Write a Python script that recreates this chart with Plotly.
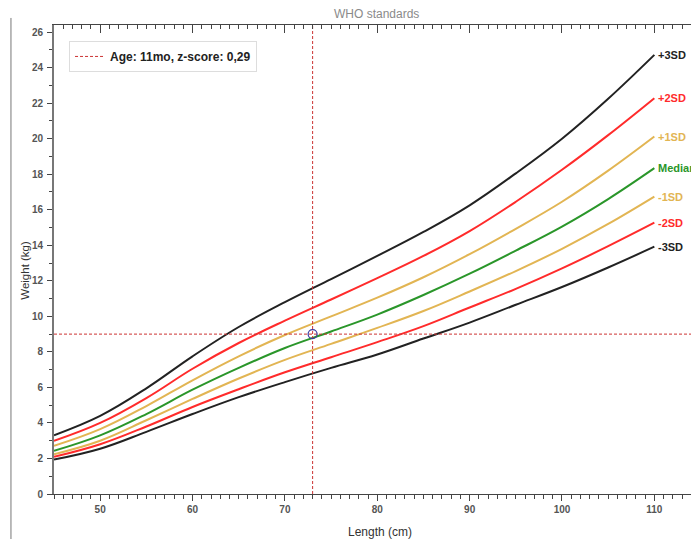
import plotly.graph_objects as go

# Length (cm)
lengths = [45, 50, 55, 60, 65, 70, 75, 80, 85, 90, 95, 100, 105, 110]

# Weight (kg) reference curves
sd_p3 = [3.31, 4.40, 5.95, 7.75, 9.40, 10.80, 12.10, 13.40, 14.75, 16.25, 18.05, 20.00, 22.25, 24.72]
sd_p2 = [2.99, 4.00, 5.40, 7.05, 8.50, 9.76, 10.95, 12.15, 13.40, 14.80, 16.45, 18.25, 20.20, 22.28]
sd_p1 = [2.71, 3.65, 4.95, 6.40, 7.75, 8.95, 10.00, 11.05, 12.20, 13.50, 14.93, 16.45, 18.20, 20.12]
median = [2.43, 3.30, 4.50, 5.87, 7.10, 8.22, 9.15, 10.10, 11.20, 12.40, 13.70, 15.05, 16.60, 18.34]
sd_m1 = [2.24, 3.00, 4.15, 5.35, 6.50, 7.55, 8.45, 9.35, 10.30, 11.40, 12.55, 13.80, 15.20, 16.74]
sd_m2 = [2.09, 2.80, 3.80, 4.90, 5.90, 6.85, 7.70, 8.55, 9.45, 10.50, 11.55, 12.70, 13.95, 15.27]
sd_m3 = [1.94, 2.55, 3.50, 4.50, 5.45, 6.30, 7.10, 7.85, 8.75, 9.65, 10.65, 11.65, 12.75, 13.92]

curve_names = ["+3SD", "+2SD", "+1SD", "Median", "-1SD", "-2SD", "-3SD"]
curve_values = [sd_p3, sd_p2, sd_p1, median, sd_m1, sd_m2, sd_m3]
curve_colors = ["#222222", "#ff2b2b", "#e2b553", "#2a962a", "#e2b553", "#ff2b2b", "#222222"]

# Measured child
point_length = 73
point_weight = 9.0
legend_text = "Age: 11mo, z-score: 0,29"

x_range = [45, 115.7]
y_range = [0, 26.4]

FONT = "Arial, Liberation Sans, sans-serif"

fig = go.Figure()

for name, vals, col in zip(curve_names, curve_values, curve_colors):
    fig.add_trace(go.Scatter(
        x=lengths, y=vals, mode="lines", name=name, showlegend=False,
        line=dict(color=col, width=2, shape="spline", smoothing=1.1),
        hoverinfo="skip"))

# crosshair
fig.add_trace(go.Scatter(
    x=[point_length, point_length], y=y_range, mode="lines", name=legend_text,
    showlegend=True, line=dict(color="#cc3333", width=1, dash="3px,2px")))
fig.add_trace(go.Scatter(
    x=x_range, y=[point_weight, point_weight], mode="lines", showlegend=False,
    line=dict(color="#cc3333", width=1, dash="3px,2px")))
fig.add_trace(go.Scatter(
    x=[point_length], y=[point_weight], mode="markers", showlegend=False,
    marker=dict(symbol="circle-open", size=9, color="#3a3aa0", line=dict(width=1.2))))
# dummy trace for top axis
fig.add_trace(go.Scatter(x=x_range, y=[None, None], xaxis="x2", showlegend=False,
                         hoverinfo="skip"))

annotations = []
for name, vals, col in zip(curve_names, curve_values, curve_colors):
    annotations.append(dict(
        x=lengths[-1], y=vals[-1], xref="x", yref="y", text="<b>" + name + "</b>",
        showarrow=False, xanchor="left", yanchor="middle", xshift=2,
        font=dict(family=FONT, size=11, color=col)))

# plot area: 653 px wide (left at 46 inside figure), 468.6 px high
annotations += [
    dict(text="WHO standards", xref="paper", yref="paper", x=0.494, y=1.0, yshift=11,
         showarrow=False, xanchor="center", yanchor="middle",
         font=dict(family=FONT, size=12, color="#8a8a8a")),
    dict(text="Weight (kg)", xref="paper", yref="paper", x=-0.0445, y=0.478,
         textangle=-90, showarrow=False, xanchor="center", yanchor="middle",
         font=dict(family=FONT, size=11.5, color="#333333")),
    dict(text="Length (cm)", xref="paper", yref="paper", x=0.499, y=-0.0815,
         showarrow=False, xanchor="center", yanchor="middle",
         font=dict(family=FONT, size=12, color="#333333")),
]

fig.update_layout(
    width=699, height=539,
    margin=dict(l=46, r=0, t=17, b=53),
    paper_bgcolor="white", plot_bgcolor="white",
    font=dict(family=FONT, size=10, color="#444444"),
    showlegend=True,
    legend=dict(x=0.023, y=0.966, xanchor="left", yanchor="top",
                bgcolor="white", bordercolor="#dddddd", borderwidth=1,
                font=dict(family=FONT, size=12, color="#222222", weight="bold"),
                itemwidth=30, tracegroupgap=0),
    xaxis=dict(range=x_range, showgrid=False, zeroline=False,
               showline=True, linecolor="#444444", linewidth=1,
               ticks="outside", ticklen=6, tickcolor="#444444",
               tickvals=[50, 60, 70, 80, 90, 100, 110],
               tickfont=dict(family=FONT, size=10, color="#555555", weight="bold"),
               minor=dict(dtick=1, tick0=45, ticks="outside", ticklen=4, tickcolor="#444444")),
    xaxis2=dict(range=x_range, overlaying="x", side="top", showgrid=False, zeroline=False,
                showline=True, linecolor="#444444", linewidth=1,
                ticks="inside", ticklen=8, tickcolor="#444444",
                tickvals=[50, 60, 70, 80, 90, 100, 110], showticklabels=False,
                minor=dict(dtick=1, tick0=45, ticks="inside", ticklen=4, tickcolor="#444444")),
    yaxis=dict(range=y_range, showgrid=False, zeroline=False,
               showline=True, linecolor="#777777", linewidth=2,
               ticks="outside", ticklen=5, tickcolor="#444444",
               tickvals=list(range(0, 27, 2)), ticklabelstandoff=2,
               tickfont=dict(family=FONT, size=10, color="#555555", weight="bold"),
               minor=dict(dtick=1, ticks="outside", ticklen=3, tickcolor="#444444")),
    annotations=annotations,
    shapes=[dict(type="line", xref="paper", yref="paper",
                 x0=-0.0659, x1=-0.0659, y0=1.015, y1=-0.12,
                 line=dict(color="#777777", width=1))],
)

fig.write_html("out.html")
